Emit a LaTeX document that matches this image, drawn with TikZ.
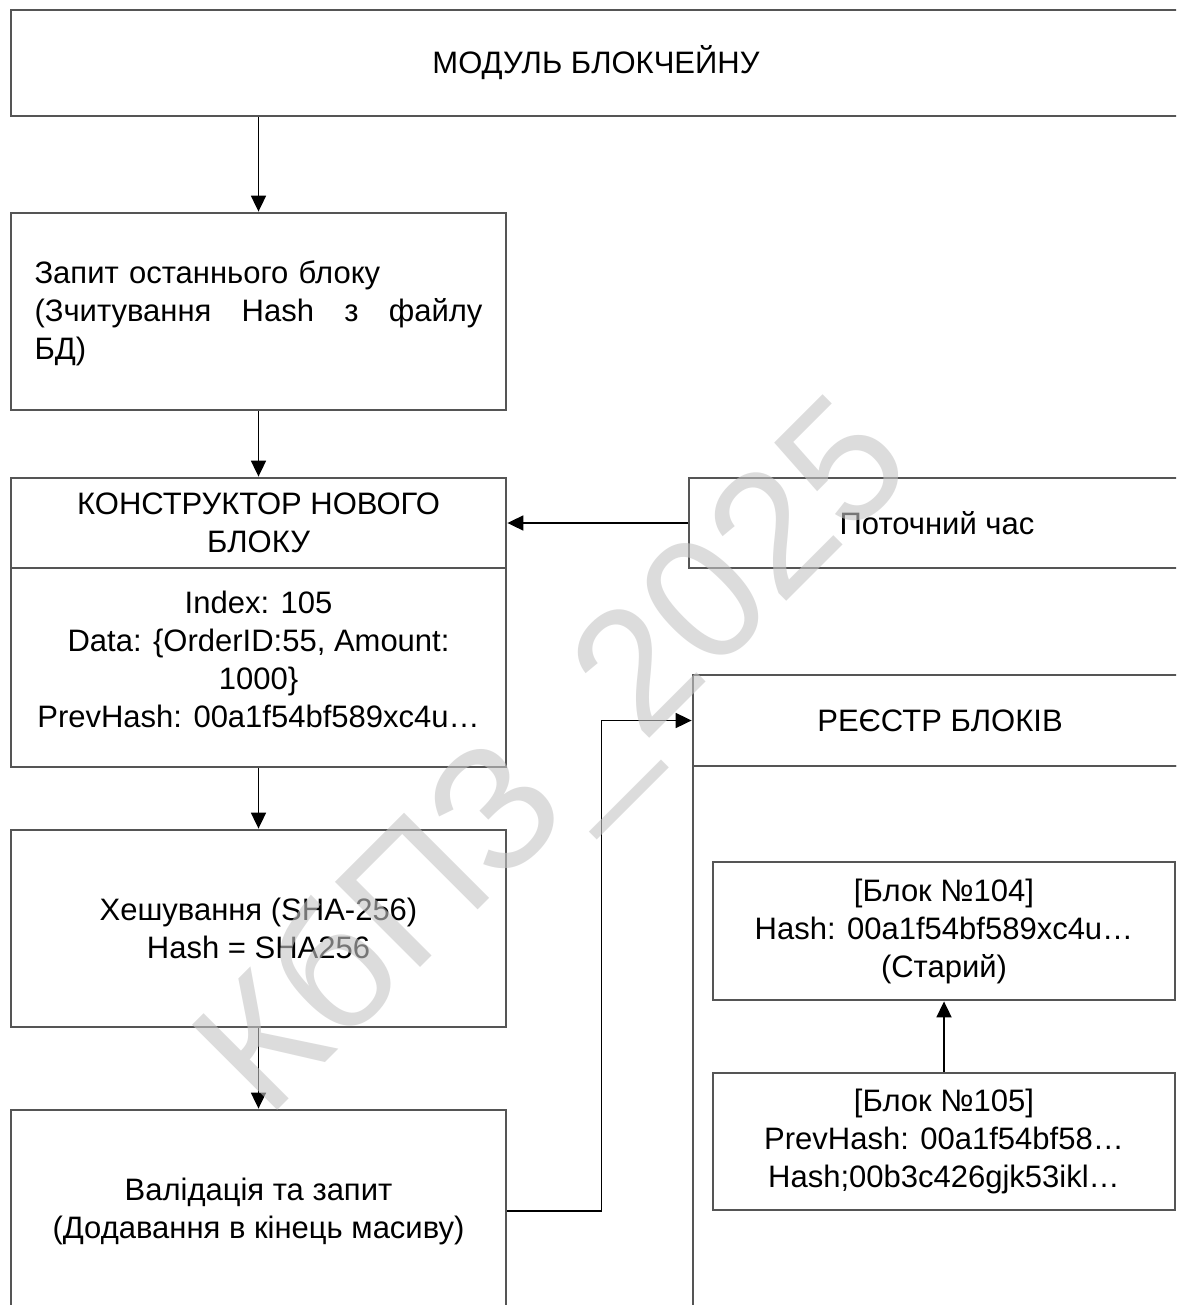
\documentclass[tikz,border=0pt]{standalone}
\usepackage{fontspec}
\setmainfont{Liberation Sans}
\usetikzlibrary{arrows.meta}
\definecolor{edge}{RGB}{85,85,85}
\definecolor{wmark}{RGB}{197,197,197}
\begin{document}
\begin{tikzpicture}[x=1pt,y=-1pt,
  box/.style={draw=edge, line width=2.8pt, rectangle, inner sep=0pt, fill=none},
  txt/.style={font=\fontsize{31}{38}\selectfont, align=center, inner sep=0pt},
  arr/.style={draw=black, line width=1.8pt, -{Triangle[length=16pt,width=15pt]}},
  wm/.style={font=\fontsize{175}{175}\selectfont, text=wmark, opacity=0.6, inner sep=0pt}
]
\useasboundingbox (0,0) rectangle (1176,1305);
\clip (0,0) rectangle (1176,1305);
\fill[white] (0,0) rectangle (1176,1305);

% top module
\node[box, txt, minimum width=1170pt, minimum height=106pt] (mod) at (596,63) {МОДУЛЬ БЛОКЧЕЙНУ};

% request last block
\node[box, minimum width=495pt, minimum height=197pt] (req) at (258.5,311.5) {};
\node[txt, align=left, text width=448pt] (reqt) at (258.5,313) {\makebox[448pt][l]{Запит останнього блоку}\\\makebox[448pt][l]{(Зчитування\hfill Hash\hfill з\hfill файлу}\\БД)};

% constructor
\node[box, txt, minimum width=495pt, minimum height=90pt] (hdr) at (258.5,523) {КОНСТРУКТОР НОВОГО\\БЛОКУ};
\node[box, minimum width=495pt, minimum height=199pt] (body) at (258.5,667.5) {};
\node[txt] (bodyt) at (258.5,659.5) {Index: 105\\Data: \{OrderID:55, Amount:\\1000\}\\PrevHash: 00a1f54bf589xc4u…};

% current time
\node[box, txt, minimum width=496pt, minimum height=90pt] (time) at (937,523) {Поточний час};

% hashing
\node[box, txt, minimum width=495pt, minimum height=197pt] (hash) at (258.5,928.5) {Хешування (SHA-256)\\Hash = SHA256};

% validation
\node[box, txt, minimum width=495pt, minimum height=202pt] (val) at (258.5,1211) {Валідація та запит\\(Додавання в кінець масиву)};

% registry
\node[box, txt, minimum width=494pt, minimum height=91pt] (reg) at (940,720.5) {РЕЄСТР БЛОКІВ};
\node[box, minimum width=494pt, minimum height=554pt] (regbody) at (940,1043) {};

\node[box, txt, minimum width=462pt, minimum height=138pt] (b104) at (944,931) {[Блок №104]\\Hash: 00a1f54bf589xc4u…\\(Старий)};
\node[box, txt, minimum width=462pt, minimum height=137pt] (b105) at (944,1141.5) {[Блок №105]\\PrevHash: 00a1f54bf58…\\Hash;00b3c426gjk53ikl…};

% connectors
\draw[arr] (mod.south -| req.north) -- (req.north);
\draw[arr] (req.south) -- (hdr.north);
\draw[arr] (time.west) -- (hdr.east);
\draw[arr] (body.south) -- (hash.north);
\draw[arr] (hash.south) -- (val.north);
\draw[arr] (val.east) -- ++(94,0) |- (reg.west);
\draw[arr] (b105.north) -- (b104.south);

% watermark
\node[wm, rotate=45, anchor=base] (wmk) at (593,795) {КбПЗ\_2025};
\end{tikzpicture}
\end{document}
